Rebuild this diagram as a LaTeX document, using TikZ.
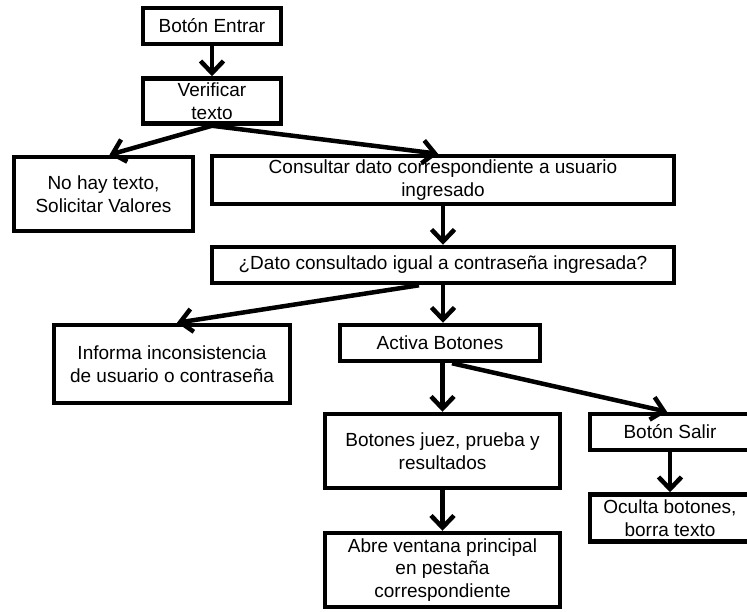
\documentclass[tikz,border=0pt]{standalone}
\usepackage{fontspec}
\setmainfont{Liberation Sans}
\usepackage{tikz}
\usetikzlibrary{arrows.meta,calc}

\begin{document}
\begin{tikzpicture}[x=1pt,y=-1pt,font=\fontsize{19}{22.5}\selectfont,
 box/.style={draw=black,line width=4.5pt,align=center,inner sep=0pt,fill=white},
 ar/.style={-{Straight Barb[length=12pt,width=23pt]},line width=4.5pt,draw=black}]
\useasboundingbox (0,0) rectangle (747,611);
\node[box,minimum width=138,minimum height=36] (entrar) at (212,26) {Botón Entrar};
\node[box,minimum width=138,minimum height=45] (verif) at (212,101) {Verificar\\texto};
\node[box,minimum width=179,minimum height=74] (nohay) at (103.5,194) {No hay texto,\\Solicitar Valores};
\node[box,minimum width=462,minimum height=48] (consulta) at (443,180)
 {Consultar dato correspondiente a usuario\\ingresado};
\node[box,minimum width=462,minimum height=36] (igual) at (443,265)
 {¿Dato consultado igual a contraseña ingresada?};
\node[box,minimum width=236,minimum height=78] (informa) at (172,364)
 {Informa inconsistencia\\de usuario o contraseña};
\node[box,minimum width=200,minimum height=36] (activa) at (440,343) {Activa Botones};
\node[box,minimum width=235,minimum height=74] (juez) at (442.5,451)
 {Botones juez, prueba y\\resultados};
\node[box,minimum width=160,minimum height=36] (salir) at (670,432) {Botón Salir};
\node[box,minimum width=160,minimum height=47] (oculta) at (670,518)
 {Oculta botones,\\borra texto};
\node[box,minimum width=235,minimum height=74] (abre) at (442.5,570)
 {Abre ventana principal\\en pestaña\\correspondiente};
\draw[ar] (entrar) -- (verif);
\draw[ar] (verif.south) -- ([xshift=6pt]nohay.north);
\draw[ar] (verif.south) -- ([xshift=-5pt]consulta.north);
\draw[ar] (consulta) -- (igual);
\draw[ar] (igual.south) -- (igual.south |- activa.north);
\draw[ar] ([xshift=-24pt]igual.south) -- ([xshift=5pt]informa.north);
\draw[ar] (activa.south -| juez.north) -- (juez.north);
\draw[ar] ([xshift=12pt]activa.south) -- ([xshift=-3pt]salir.north);
\draw[ar] (juez) -- (abre);
\draw[ar] (salir) -- (oculta);
\end{tikzpicture}
\end{document}
